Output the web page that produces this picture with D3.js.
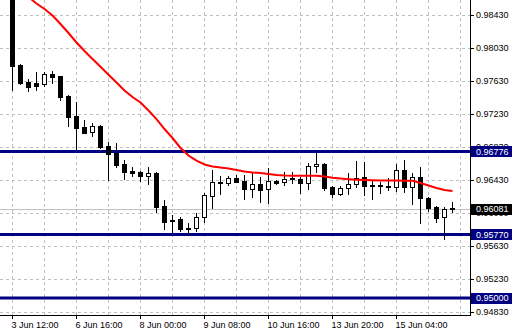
<!DOCTYPE html>
<html>
<head>
<meta charset="utf-8">
<script src="https://cdn.jsdelivr.net/npm/d3@7"></script>
<style>
  body { margin: 0; background: #fff; }
  text { font-family: "Liberation Sans", Arial, sans-serif; font-size: 9px; }
</style>
</head>
<body>
<script>
const width = 512;
const height = 335;
const plotRight = 470;
const plotBottom = 315;

// H4 bars, index 0 = 3 Jun 12:00
const opens = [0.98720, 0.97824, 0.97614, 0.97602, 0.97590, 0.97715, 0.97688, 0.97452, 0.97206, 0.97076,
  0.97008, 0.97085, 0.96842, 0.96754, 0.96624, 0.96539, 0.96531, 0.96482, 0.96518, 0.96115,
  0.95945, 0.95961, 0.95852, 0.95844, 0.95978, 0.96240, 0.96406, 0.96390, 0.96451, 0.96418,
  0.96325, 0.96378, 0.96317, 0.96418, 0.96402, 0.96451, 0.96442, 0.96390, 0.96596, 0.96624,
  0.96341, 0.96257, 0.96329, 0.96382, 0.96470, 0.96366, 0.96369, 0.96357, 0.96341, 0.96551,
  0.96349, 0.96463, 0.96208, 0.96099, 0.95978, 0.96085];
const highs = [0.98750, 0.97836, 0.97651, 0.97739, 0.97743, 0.97751, 0.97691, 0.97460, 0.97379, 0.97157,
  0.97117, 0.97100, 0.96887, 0.96875, 0.96672, 0.96591, 0.96539, 0.96591, 0.96531, 0.96188,
  0.96006, 0.95978, 0.95905, 0.96026, 0.96269, 0.96551, 0.96478, 0.96482, 0.96491, 0.96491,
  0.96531, 0.96470, 0.96572, 0.96430, 0.96527, 0.96523, 0.96470, 0.96632, 0.96754, 0.96640,
  0.96357, 0.96357, 0.96511, 0.96664, 0.96652, 0.96422, 0.96409, 0.96451, 0.96624, 0.96672,
  0.96511, 0.96591, 0.96220, 0.96115, 0.96099, 0.96160];
const lows = [0.97521, 0.97594, 0.97512, 0.97521, 0.97573, 0.97602, 0.97403, 0.97088, 0.96809, 0.97000,
  0.96967, 0.96822, 0.96430, 0.96584, 0.96446, 0.96482, 0.96422, 0.96385, 0.96046, 0.95840,
  0.95803, 0.95815, 0.95775, 0.95815, 0.95925, 0.96094, 0.96264, 0.96366, 0.96400, 0.96200,
  0.96228, 0.96167, 0.96155, 0.96382, 0.96373, 0.96390, 0.96276, 0.96325, 0.96531, 0.96309,
  0.96220, 0.96245, 0.96257, 0.96341, 0.96248, 0.96196, 0.96276, 0.96309, 0.96300, 0.96281,
  0.96139, 0.95905, 0.96058, 0.95925, 0.95715, 0.96046];
const closes = [0.97815, 0.97609, 0.97561, 0.97573, 0.97711, 0.97682, 0.97440, 0.97190, 0.97064, 0.97003,
  0.97085, 0.96834, 0.96741, 0.96612, 0.96531, 0.96518, 0.96482, 0.96518, 0.96106, 0.95925,
  0.95929, 0.95832, 0.95832, 0.95978, 0.96244, 0.96406, 0.96390, 0.96451, 0.96406, 0.96325,
  0.96382, 0.96309, 0.96418, 0.96390, 0.96446, 0.96439, 0.96390, 0.96600, 0.96624, 0.96337,
  0.96260, 0.96329, 0.96382, 0.96458, 0.96361, 0.96354, 0.96357, 0.96341, 0.96548, 0.96341,
  0.96470, 0.96208, 0.96094, 0.95973, 0.96082, 0.96081];
const maValues = [0.98794, 0.98721, 0.98648, 0.98569, 0.98503, 0.98424, 0.98321, 0.98212, 0.98097, 0.97994,
  0.97897, 0.97803, 0.97706, 0.97612, 0.97515, 0.97436, 0.97369, 0.97272, 0.97169, 0.97048,
  0.96939, 0.96818, 0.96727, 0.96666, 0.96618, 0.96594, 0.96582, 0.96569, 0.96551, 0.96533,
  0.96521, 0.96515, 0.96503, 0.96491, 0.96485, 0.96482, 0.96482, 0.96482, 0.96482, 0.96472,
  0.96458, 0.96448, 0.96440, 0.96434, 0.96430, 0.96426, 0.96424, 0.96424, 0.96423, 0.96421,
  0.96421, 0.96394, 0.96363, 0.96333, 0.96309, 0.96297];

const timeLabels = ['3 Jun 12:00', '6 Jun 16:00', '8 Jun 00:00', '9 Jun 08:00', '10 Jun 16:00', '13 Jun 20:00', '15 Jun 04:00'];
const timeLabelIdx = [0, 8, 16, 24, 32, 40, 48];
const priceTicks = [0.98430, 0.98030, 0.97630, 0.97230, 0.96830, 0.96430, 0.96030, 0.95630, 0.95230, 0.94830];
const levelPrices = [0.96776, 0.95770, 0.95000];
const bidPrice = 0.96081;

const bars = opens.map((o, i) => ({i: i, o: o, h: highs[i], l: lows[i], c: closes[i]}));

const xScale = d3.scaleLinear().domain([0, 55]).range([12, 452]);
const yScale = d3.scaleLinear().domain([0.94830, 0.98430]).range([312, 15]);

const svg = d3.select('body').append('svg')
  .attr('width', width)
  .attr('height', height);

svg.append('defs').append('clipPath').attr('id', 'plot')
  .append('rect').attr('x', 0).attr('y', 0).attr('width', plotRight).attr('height', plotBottom);

const grid = svg.append('g')
  .attr('stroke', '#c0c0c0')
  .attr('stroke-dasharray', '3,3')
  .attr('shape-rendering', 'crispEdges');

grid.selectAll('.vgrid')
  .data(d3.range(0, 57, 4))
  .enter()
  .append('line')
  .attr('x1', d => xScale(d) + 0.5)
  .attr('x2', d => xScale(d) + 0.5)
  .attr('y1', 0)
  .attr('y2', plotBottom);

grid.selectAll('.hgrid')
  .data(priceTicks)
  .enter()
  .append('line')
  .attr('x1', 0)
  .attr('x2', plotRight)
  .attr('y1', d => Math.round(yScale(d)) + 0.5)
  .attr('y2', d => Math.round(yScale(d)) + 0.5);

const plot = svg.append('g').attr('clip-path', 'url(#plot)');

// bid line
plot.append('line')
  .attr('x1', 0).attr('x2', plotRight)
  .attr('y1', Math.round(yScale(bidPrice)) + 0.5)
  .attr('y2', Math.round(yScale(bidPrice)) + 0.5)
  .attr('stroke', '#c0c0c0')
  .attr('shape-rendering', 'crispEdges');

// horizontal levels
plot.selectAll('.level')
  .data(levelPrices)
  .enter()
  .append('line')
  .attr('x1', 0).attr('x2', plotRight)
  .attr('y1', d => yScale(d))
  .attr('y2', d => yScale(d))
  .attr('stroke', '#000080')
  .attr('stroke-width', 3);

// candles
const candles = plot.selectAll('.candle')
  .data(bars)
  .enter()
  .append('g')
  .attr('shape-rendering', 'crispEdges');

candles.append('line')
  .attr('x1', d => xScale(d.i) + 0.5)
  .attr('x2', d => xScale(d.i) + 0.5)
  .attr('y1', d => Math.round(yScale(d.h)))
  .attr('y2', d => Math.round(yScale(d.l)) + 1)
  .attr('stroke', '#000');

candles.append('rect')
  .attr('x', d => xScale(d.i) - 1.5)
  .attr('y', d => Math.round(yScale(Math.max(d.o, d.c))) + 0.5)
  .attr('width', 4)
  .attr('height', d => Math.max(0, Math.round(yScale(Math.min(d.o, d.c))) - Math.round(yScale(Math.max(d.o, d.c)))))
  .attr('fill', d => d.c > d.o ? '#fff' : '#000')
  .attr('stroke', '#000');

// moving average
const maLine = d3.line()
  .x((d, i) => xScale(i) + 0.5)
  .y(d => yScale(d));

plot.append('path')
  .datum(maValues)
  .attr('d', maLine)
  .attr('fill', 'none')
  .attr('stroke', '#ff0000')
  .attr('stroke-width', 2);

// axes
const yAxis = d3.axisRight(yScale)
  .tickValues(priceTicks)
  .tickSize(4)
  .tickPadding(2)
  .tickFormat(d3.format('.5f'));

const yAxisG = svg.append('g')
  .attr('transform', 'translate(' + plotRight + ',0)')
  .call(yAxis);
yAxisG.select('.domain').remove();
yAxisG.selectAll('text').attr('fill', '#000').style('font-size', '9px').style('font-family', '"Liberation Sans", Arial, sans-serif');

const xAxis = d3.axisBottom(xScale)
  .tickValues(timeLabelIdx)
  .tickSize(4)
  .tickFormat((d, i) => timeLabels[i]);

const xAxisG = svg.append('g')
  .attr('transform', 'translate(0,' + plotBottom + ')')
  .call(xAxis);
xAxisG.select('.domain').remove();
xAxisG.selectAll('text')
  .attr('text-anchor', 'start')
  .attr('x', -1)
  .attr('fill', '#000')
  .style('font-size', '9px')
  .style('font-family', '"Liberation Sans", Arial, sans-serif');

svg.append('line')
  .attr('x1', plotRight + 0.5).attr('x2', plotRight + 0.5)
  .attr('y1', 0).attr('y2', plotBottom + 1)
  .attr('stroke', '#000')
  .attr('shape-rendering', 'crispEdges');
svg.append('line')
  .attr('x1', 0).attr('x2', plotRight + 1)
  .attr('y1', plotBottom + 0.5).attr('y2', plotBottom + 0.5)
  .attr('stroke', '#000')
  .attr('shape-rendering', 'crispEdges');

// price labels on the right
const priceLabels = levelPrices.map(p => ({p: p, bg: '#000080'}))
  .concat([{p: bidPrice, bg: '#000'}]);

const labelG = svg.selectAll('.plabel')
  .data(priceLabels)
  .enter()
  .append('g');

labelG.append('rect')
  .attr('x', plotRight + 1)
  .attr('y', d => Math.round(yScale(d.p)) - 5)
  .attr('width', width - plotRight - 1)
  .attr('height', 11)
  .attr('fill', d => d.bg);

labelG.append('text')
  .attr('x', plotRight + 6)
  .attr('y', d => yScale(d.p))
  .attr('dy', '0.35em')
  .attr('fill', '#fff')
  .text(d => d3.format('.5f')(d.p));
</script>
</body>
</html>
